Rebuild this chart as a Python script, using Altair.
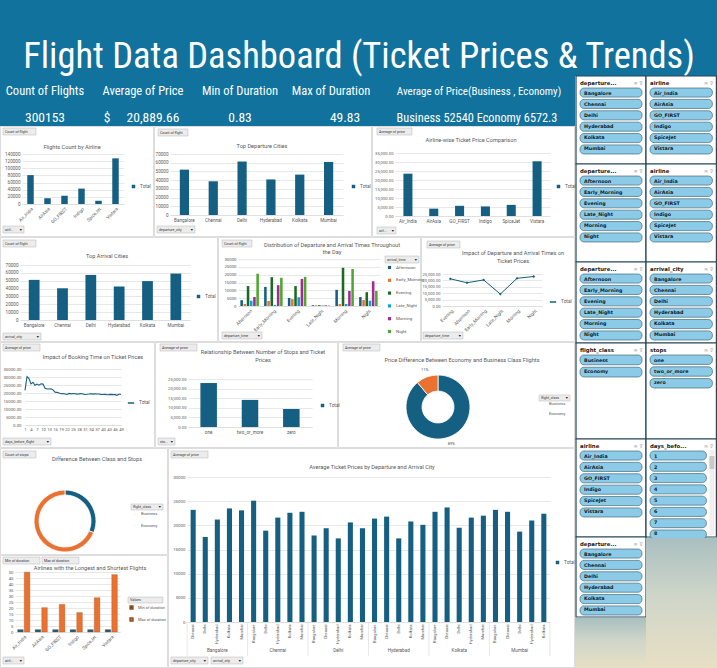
import altair as alt
import pandas as pd

# ---------------- data ----------------
DASH_TITLE = "Flight Data Dashboard (Ticket Prices & Trends)"
kpi_labels = ["Count of Flights", "Average of Price", "Min of Duration", "Max of Duration",
              "Average of Price(Business , Economy)"]
kpi_values = ["300153", "$", "20,889.66", "0.83", "49.83", "Business  52540  Economy  6572.3"]

airlines = ["Air_India", "AirAsia", "GO_FIRST", "Indigo", "SpiceJet", "Vistara"]
flights_by_airline = [80892, 16098, 23173, 43120, 9011, 127859]
avg_price_by_airline = [23507, 4091, 5652, 5324, 6179, 30397]
duration_measures = ["Min of duration", "Max of duration"]
min_duration_by_airline = [2.0, 2.0, 2.0, 2.0, 2.0, 2.0]
max_duration_by_airline = [49.83, 20.3, 23.0, 16.2, 28.6, 47.8]

cities = ["Bangalore", "Chennai", "Delhi", "Hyderabad", "Kolkata", "Mumbai"]
departure_city_counts = [52061, 38700, 61343, 40806, 46347, 60896]
arrival_city_counts = [51068, 40368, 57360, 42726, 49534, 59097]

time_slots = ["Afternoon", "Early_Morning", "Evening", "Late_Night", "Morning", "Night"]
# rows: departure_time, columns: arrival_time (same order as time_slots)
dist_counts = [
    [3700, 1300, 12700, 3400, 5700, 20600],
    [12200, 3200, 18400, 700, 13300, 18000],
    [5100, 4400, 12700, 5600, 17300, 18600],
    [500, 400, 500, 300, 400, 300],
    [10300, 1200, 24400, 1300, 9600, 23600],
    [5700, 3800, 8800, 3400, 15800, 9600],
]
price_time_order = ["Evening", "Afternoon", "Early_Morning", "Late_Night", "Morning", "Night"]
avg_price_by_departure_time = [21232, 18179, 20370, 9295, 21630, 23062]

days_before_flight = list(range(1, 50))
avg_price_by_days = [21592, 30211, 28976, 25731, 26680, 24857, 25588, 24896, 25726, 25573,
                     22991, 22506, 22499, 22678, 21953, 20504, 20386, 19991, 19523, 19700,
                     19430, 19082, 19727, 19456, 19646, 19523, 19318, 19480, 19719, 19426,
                     19081, 19200, 19347, 19543, 19295, 19554, 19331, 19407, 19165, 19067,
                     19119, 18905, 18974, 19145, 18963, 18976, 18561, 19181, 19180]

stops = ["one", "two_or_more", "zero"]
avg_price_by_stops = [22900, 14113, 9376]

classes = ["Business", "Economy"]
avg_price_by_class = [52540, 6572]
stops_count_by_class = [93487, 206666]

# average price: departure city -> arrival cities (other five, alphabetical)
route_prices = [
    [23200, 17600, 21200, 23500, 23100],
    [25100, 18900, 21600, 22600, 22800],
    [17900, 19400, 17300, 20600, 19400],
    [21400, 21800, 17300, 20800, 20100],
    [22800, 23700, 19500, 21600, 22000],
    [23200, 22800, 18700, 21000, 22400],
]

# ---------------- style ----------------
HBLUE = "#11729d"
BAR = "#156082"
ORANGE = "#E97132"
SIX = ["#156082", "#E97132", "#196B24", "#0F9ED5", "#A02B93", "#4EA72E"]
GRID = "#d9d9d9"
LBL = "#595959"
BORDER = "#d4d4d4"
FONT = "Roboto"
NARROW = "Liberation Sans Narrow, Roboto Condensed, Roboto"
PILL = "#8ccbe8"
PILL_STROKE = "#2f5566"
SL_BORDER = "#24475a"
W, H = 717, 668

DUMMY = pd.DataFrame({"d": [0]})
L = []


def txt(s, x, y, size=5.6, color=LBL, align="center", weight="normal", font=FONT,
        baseline="middle", lh=None):
    kw = dict(fontSize=size, color=color, align=align, fontWeight=weight, font=font, baseline=baseline)
    if lh is not None:
        kw["lineHeight"] = lh
    return alt.Chart(DUMMY).mark_text(**kw).encode(x=alt.value(x), y=alt.value(y), text=alt.value(s))


def rect(x0, y0, x1, y1, fill="transparent", stroke=None, sw=0.6, radius=0):
    kw = dict(fill=fill, strokeWidth=sw, cornerRadius=radius)
    if stroke is not None:
        kw["stroke"] = stroke
    return alt.Chart(DUMMY).mark_rect(**kw).encode(
        x=alt.value(x0), x2=alt.value(x1), y=alt.value(y0), y2=alt.value(y1))


def button(label, x, y, w, h=7, arrow=False):
    L.append(rect(x, y, x + w, y + h, fill="#ececec", stroke="#b5b5b5", sw=0.5))
    L.append(txt(label, x + 2, y + h / 2 + 0.2, size=3.6, color="#333333", align="left"))
    if arrow:
        L.append(txt("▼", x + w - 1.5, y + h / 2 + 0.2, size=3.6, color="#222222", align="right"))


def title(lines, cx, y, lh=7.5):
    L.append(txt(lines, cx, y, size=5.6, color=LBL, baseline="alphabetic", lh=lh))


def border(x0, y0, x1, y1):
    L.append(rect(x0 + 0.5, y0 + 0.5, x1 - 0.5, y1 - 0.5, stroke=BORDER, sw=0.8))


def yax(left, values, fmt, size=4.6):
    return alt.Axis(orient="left", offset=-left, values=values, format=fmt, title=None, grid=True,
                    gridColor=GRID, gridWidth=0.6, domain=False, ticks=False, labelFontSize=size,
                    labelColor=LBL, labelPadding=2, labelFont=FONT)


def xax(bottom, angle=0, **kw):
    d = dict(orient="bottom", offset=bottom - H, title=None, grid=False, ticks=False,
             domainColor=GRID, domainWidth=0.6, labelAngle=angle, labelFontSize=4.6,
             labelColor=LBL, labelPadding=2, labelFont=FONT)
    d.update(kw)
    return alt.Axis(**d)


def total_legend(x, y, sym="square", size=12):
    return alt.Legend(orient="none", legendX=x, legendY=y, title=None, symbolType=sym,
                      symbolSize=size, labelFontSize=4.8, labelColor=LBL, labelFont=FONT)


def total_color(x, y, sym="square", size=12):
    return alt.Color("s:N", scale=alt.Scale(domain=["Total"], range=[BAR]),
                     legend=total_legend(x, y, sym, size))


def bar_panel(cats, vals, x0, x1, top, bottom, ymax, ystep, fmt, leg, angle=0, pad=0.62, ysize=4.6):
    df = pd.DataFrame({"cat": cats, "val": vals, "s": "Total"})
    return alt.Chart(df).mark_bar().encode(
        x=alt.X("cat:N", scale=alt.Scale(domain=cats, range=[x0, x1], paddingInner=pad,
                                         paddingOuter=pad / 2), axis=xax(bottom, angle)),
        y=alt.Y("val:Q", scale=alt.Scale(domain=[0, ymax], range=[bottom, top], nice=False),
                axis=yax(x0, list(range(0, ymax + 1, ystep)), fmt, ysize)),
        color=total_color(*leg))


# ---------------- header & KPI ----------------
L.append(rect(0, 0, W, 76, fill=HBLUE))
L.append(rect(0, 76, 575, 126, fill=HBLUE))
L.append(txt(DASH_TITLE, 359, 68, size=36.5, color="white", font=NARROW, baseline="alphabetic"))
KPI_LABEL_X = [45, 143, 240, 331, 479]
KPI_LABEL_SIZE = [12.5, 12.5, 12.5, 12.5, 11]
KPI_VALUE_X = [45, 107, 153, 240, 345, 477]
KPI_VALUE_SIZE = [13.5, 13.5, 13.5, 13.5, 13.5, 12.3]
for lab, cx, sz in zip(kpi_labels, KPI_LABEL_X, KPI_LABEL_SIZE):
    L.append(txt(lab, cx, 95, size=sz, color="white", font=NARROW, baseline="alphabetic"))
for val, cx, sz in zip(kpi_values, KPI_VALUE_X, KPI_VALUE_SIZE):
    L.append(txt(val, cx, 122, size=sz, color="white", font=NARROW, baseline="alphabetic"))

# ---------------- row 1 ----------------
border(0, 126, 154, 237)
button("Count of flight", 3, 128, 33)
title("Flights Count by Airline", 72, 149)
L.append(bar_panel(airlines, flights_by_airline, 22, 124, 154, 204, 140000, 20000, "d", (131, 184), angle=-45))
button("airli...", 3, 226, 21, arrow=True)

border(154, 126, 372, 237)
button("Count of flight", 158, 129, 30)
title("Top Departure Cities", 262, 148)
L.append(bar_panel(cities, departure_city_counts, 170, 343, 154, 215, 70000, 10000, "d", (351, 184), pad=0.68))
button("departure_city", 157, 226, 38, arrow=True)

border(372, 126, 575, 237)
button("Average of price", 377, 128, 35)
title("Airline-wise Ticket Price Comparison", 471, 142)
L.append(bar_panel(airlines, avg_price_by_airline, 395, 550, 153, 216, 35000, 5000, ",.2f", (556, 184),
                   pad=0.65, ysize=4.2))
button("airl...", 377, 227, 19, arrow=True)

# ---------------- row 2 ----------------
border(0, 237, 218, 342)
button("Count of flight", 3, 240, 33)
title("Top Arrival Cities", 107, 258)
L.append(bar_panel(cities, arrival_city_counts, 20, 190, 265, 320, 70000, 10000, "d", (196, 294)))
button("arrival_city", 3, 333, 38, arrow=True)

border(218, 237, 421, 342)
button("Count of flight", 222, 240, 30)
title(["Distribution of Departure and Arrival Times Throughout", "the Day"], 332, 247, lh=7)
rows5 = [{"dep": d, "arr": a, "val": v}
         for d, vals in zip(time_slots, dist_counts) for a, v in zip(time_slots, vals)]
L.append(alt.Chart(pd.DataFrame(rows5)).mark_bar().encode(
    x=alt.X("dep:N", scale=alt.Scale(domain=time_slots, range=[238, 380], paddingInner=0.22,
                                     paddingOuter=0.1), axis=xax(306, -45)),
    xOffset=alt.XOffset("arr:N", scale=alt.Scale(domain=time_slots, paddingInner=0.2)),
    y=alt.Y("val:Q", scale=alt.Scale(domain=[0, 30000], range=[306, 259], nice=False),
            axis=yax(238, list(range(0, 30001, 5000)), "d", 4.3)),
    color=alt.Color("arr:N", scale=alt.Scale(domain=time_slots, range=SIX),
                    legend=alt.Legend(orient="none", legendX=387, legendY=265, title=None,
                                      symbolType="square", symbolSize=10, labelFontSize=4.4,
                                      rowPadding=6.8, labelColor=LBL, labelFont=FONT))))
button("arrival_time", 385, 256, 34, arrow=True)
button("departure_time", 222, 332, 40, arrow=True)

border(421, 237, 575, 342)
button("Average of price", 427, 241, 33)
title(["Impact of Departure and Arrival Times on", "Ticket Prices"], 513, 255)
df6 = pd.DataFrame({"t": price_time_order, "val": avg_price_by_departure_time, "s": "Total"})
L.append(alt.Chart(df6).mark_line(strokeWidth=1, point=alt.OverlayMarkDef(shape="diamond", size=8, filled=True)).encode(
    x=alt.X("t:N", scale=alt.Scale(domain=price_time_order, range=[442, 542], padding=0.5),
            axis=xax(306, -45)),
    y=alt.Y("val:Q", scale=alt.Scale(domain=[0, 25000], range=[306, 274], nice=False),
            axis=yax(442, list(range(0, 25001, 5000)), ",.2f", 4.1)),
    color=total_color(549, 298, "stroke", 40)))
button("departure_time", 423, 332, 40, arrow=True)

# ---------------- row 3 ----------------
border(0, 342, 155, 448)
button("Average of price", 3, 344, 37)
title("Impact of Booking Time on Ticket Prices", 93, 359)
df7 = pd.DataFrame({"day": days_before_flight, "val": avg_price_by_days, "s": "Total"})
L.append(alt.Chart(df7).mark_line(strokeWidth=1.1).encode(
    x=alt.X("day:Q", scale=alt.Scale(domain=[1, 49], range=[25, 121], nice=False, zero=False),
            axis=xax(425, 0, values=list(range(1, 50, 3)), format="d", labelFlush=False,
                     labelOverlap=False, labelFontSize=4.2)),
    y=alt.Y("val:Q", scale=alt.Scale(domain=[0, 35000], range=[425, 369], nice=False),
            axis=yax(23, list(range(0, 35001, 5000)), ".2f", 4.3)),
    color=total_color(127, 399, "stroke", 40)))
button("days_before_flight", 3, 438, 48, arrow=True)

border(155, 342, 338, 448)
button("Average of price", 160, 344, 37)
title(["Relationship Between Number of Stops and Ticket", "Prices"], 263, 354, lh=8)
L.append(bar_panel(stops, avg_price_by_stops, 188, 312, 379, 427, 25000, 5000, ",.2f", (320, 403),
                   pad=0.6, ysize=4.2))
button("sto...", 158, 438, 17, arrow=True)

border(338, 342, 575, 448)
button("Average of price", 343, 344, 37)
title("Price Difference Between Economy and Business Class Flights", 462, 362)
df9 = pd.DataFrame({"cls": classes, "val": avg_price_by_class})
df9["pct"] = (df9["val"] / df9["val"].sum() * 100).round().astype(int).astype(str) + "%"
L.append(alt.Chart(df9).mark_arc(innerRadius=16, outerRadius=32, stroke="white", strokeWidth=0.8).encode(
    x=alt.value(438), y=alt.value(407),
    theta=alt.Theta("val:Q", stack=True),
    order=alt.Order("cls:N"),
    color=alt.Color("cls:N", scale=alt.Scale(domain=classes, range=[BAR, ORANGE]),
                    legend=alt.Legend(orient="none", legendX=541, legendY=402, title=None,
                                      symbolType="circle", symbolSize=4, labelFontSize=4,
                                      rowPadding=2, labelColor=LBL, labelFont=FONT))))
L.append(alt.Chart(df9).mark_text(radius=39, fontSize=4, color=LBL, font=FONT).encode(
    x=alt.value(438), y=alt.value(407),
    theta=alt.Theta("val:Q", stack=True), order=alt.Order("cls:N"), text="pct:N"))
button("flight_class", 539, 395, 31, h=6, arrow=True)

# ---------------- row 4 ----------------
border(0, 448, 168, 555)
button("Count of stops", 3, 451, 33)
title("Difference Between Class and Stops", 97, 461)
df10 = pd.DataFrame({"cls": classes, "val": stops_count_by_class})
L.append(alt.Chart(df10).mark_arc(innerRadius=26, outerRadius=31, stroke="white", strokeWidth=0.8).encode(
    x=alt.value(65), y=alt.value(521),
    theta=alt.Theta("val:Q", stack=True),
    order=alt.Order("cls:N"),
    color=alt.Color("cls:N", scale=alt.Scale(domain=classes, range=[BAR, ORANGE]),
                    legend=alt.Legend(orient="none", legendX=133, legendY=512, title=None,
                                      symbolType="circle", symbolSize=4, labelFontSize=4,
                                      rowPadding=3.5, labelColor=LBL, labelFont=FONT))))
button("flight_class", 131, 504, 32, h=6, arrow=True)

border(0, 555, 168, 668)
button("Min of duration", 3, 557, 37)
button("Max of duration", 42, 557, 37)
title("Airlines with the Longest and Shortest Flights", 90, 570)
rows11 = []
for a, mn, mx in zip(airlines, min_duration_by_airline, max_duration_by_airline):
    rows11.append({"airline": a, "m": duration_measures[0], "val": mn})
    rows11.append({"airline": a, "m": duration_measures[1], "val": mx})
L.append(alt.Chart(pd.DataFrame(rows11)).mark_bar(stroke="#9a4a18", strokeWidth=0.3).encode(
    x=alt.X("airline:N", scale=alt.Scale(domain=airlines, range=[15, 120], paddingInner=0.3,
                                         paddingOuter=0.15), axis=xax(632, -45)),
    xOffset=alt.XOffset("m:N", scale=alt.Scale(domain=duration_measures, paddingInner=0.15)),
    y=alt.Y("val:Q", scale=alt.Scale(domain=[0, 50], range=[632, 572], nice=False),
            axis=yax(15, list(range(0, 51, 5)), "d", 4.3)),
    color=alt.Color("m:N", scale=alt.Scale(domain=duration_measures, range=[BAR, ORANGE]),
                    legend=alt.Legend(orient="none", legendX=129, legendY=605, title=None,
                                      symbolType="square", symbolSize=8, labelFontSize=4,
                                      rowPadding=3, labelColor=LBL, labelFont=FONT))))
button("Values", 128, 597, 35, h=6)
button("airli...", 3, 657, 21, arrow=True)

border(168, 448, 575, 668)
button("Average of price", 171, 451, 37)
title("Average Ticket Prices by Departure and Arrival City", 372, 469)
rows12 = []
for dep, vals in zip(cities, route_prices):
    arrs = [c for c in cities if c != dep]
    for arr, v in zip(arrs, vals):
        rows12.append({"key": dep + "|" + arr, "dep": dep, "arr": arr, "val": v, "s": "Total"})
df12 = pd.DataFrame(rows12)
keys = list(df12["key"])
PI12, PO12 = 0.58, 0.3
xs12 = alt.Scale(domain=keys, range=[187, 550], paddingInner=PI12, paddingOuter=PO12)
step12 = (550 - 187) / (len(keys) - PI12 + 2 * PO12)
L.append(alt.Chart(df12).mark_bar().encode(
    x=alt.X("key:N", scale=xs12, axis=xax(622, -90, labelExpr="split(datum.value, '|')[1]",
                                           labelFontSize=4.1)),
    y=alt.Y("val:Q", scale=alt.Scale(domain=[0, 30000], range=[622, 477], nice=False),
            axis=yax(187, list(range(0, 30001, 5000)), "d", 4.4)),
    color=total_color(555, 560)))
grp = pd.DataFrame({"dep": cities, "mid": [keys[i * 5 + 2] for i in range(len(cities))]})
L.append(alt.Chart(grp).mark_text(fontSize=4.6, color=LBL, font=FONT).encode(
    x=alt.X("mid:N", scale=xs12, axis=None), y=alt.value(651), text="dep:N"))
sep = pd.DataFrame({"k": [keys[i * 5] for i in range(len(cities))]})
L.append(alt.Chart(sep).mark_rule(color=GRID, strokeWidth=0.6, xOffset=-step12 / 2).encode(
    x=alt.X("k:N", scale=xs12, axis=None), y=alt.value(622), y2=alt.value(656)))
L.append(alt.Chart(pd.DataFrame({"k": [keys[-1]]})).mark_rule(color=GRID, strokeWidth=0.6, xOffset=step12 / 2).encode(
    x=alt.X("k:N", scale=xs12, axis=None), y=alt.value(622), y2=alt.value(656)))
button("departure_city", 171, 657, 37, arrow=True)
button("arrival_city", 211, 657, 32, arrow=True)

# ---------------- slicers ----------------
slicer_specs = [
    ("A", 76, 164, "departure...", cities),
    ("B", 76, 164, "airline", airlines),
    ("A", 164, 262, "departure...", time_slots),
    ("B", 164, 262, "airline", airlines),
    ("A", 262, 343, "departure...", time_slots),
    ("B", 262, 343, "arrival_city", cities),
    ("A", 343, 439, "flight_class", classes),
    ("B", 343, 439, "stops", stops),
    ("A", 439, 537, "airline", airlines),
    ("B", 439, 537, "days_befo...", [str(d) for d in days_before_flight[:8]]),
    ("A", 537, 617, "departure...", cities),
]
COLX = {"A": (576, 646), "B": (646, 716.4)}
for col, top, bot, name, items in slicer_specs:
    x0, x1 = COLX[col]
    scroll = len(items) > 6
    L.append(rect(x0, top, x1, bot, fill="white", stroke=SL_BORDER, sw=1.2))
    L.append(txt(name, x0 + 4, top + 7, size=5.4, weight="bold", align="left",
                 font="DejaVu Sans", color="#1a1a1a"))
    L.append(txt("≡ ⊽", x1 - 3, top + 7, size=5, align="right", color="#a8a8a8", font="DejaVu Sans"))
    sdf = pd.DataFrame({"item": items})
    yenc = alt.Y("item:N", scale=alt.Scale(domain=items, range=[top + 12, top + 12 + 11 * len(items)],
                                           paddingInner=0.2, paddingOuter=0), axis=None)
    right = x1 - 10 if scroll else x1 - 4
    L.append(alt.Chart(sdf).mark_rect(fill=PILL, stroke=PILL_STROKE, strokeWidth=0.6, cornerRadius=4).encode(
        x=alt.value(x0 + 4), x2=alt.value(right), y=yenc))
    L.append(alt.Chart(sdf).mark_text(align="left", fontSize=4.8, fontWeight="bold", font="DejaVu Sans",
                                      color="#0d1b2a").encode(x=alt.value(x0 + 8), y=yenc, text="item:N"))
    if scroll:
        L.append(rect(x1 - 7, top + 11, x1 - 2, bot - 2, fill="#f0f0f0"))
        L.append(rect(x1 - 7, top + 17, x1 - 2, top + 30, fill="#c9c9c9"))

# background picture area (bottom right)
photo = alt.LinearGradient(gradient="linear", x1=0, x2=0, y1=0, y2=1,
                           stops=[alt.GradientStop(color="#a9bfc0", offset=0),
                                  alt.GradientStop(color="#cfd6c9", offset=0.45),
                                  alt.GradientStop(color="#e8dfc4", offset=1)])
L.append(rect(646, 538, W, H, fill=photo))
L.append(rect(575, 618, 646, H, fill=photo))

chart = alt.layer(*L).resolve_scale(
    x="independent", y="independent", color="independent", theta="independent", xOffset="independent"
).resolve_axis(x="independent", y="independent").resolve_legend(color="independent").properties(
    width=W, height=H, padding=0, autosize=alt.AutoSizeParams(type="none"), background="white"
).configure_view(stroke=None)

chart.save("out.html", embed_options={"renderer": "svg", "actions": False})
